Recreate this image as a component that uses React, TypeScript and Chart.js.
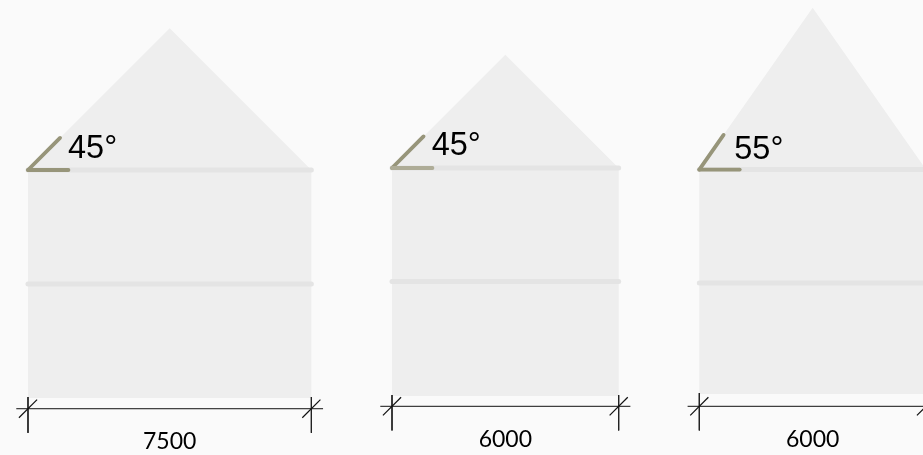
import React, { useEffect, useRef } from "react";
import { Chart, registerables } from "chart.js";

Chart.register(...registerables);

// Everything is in millimetres of the drawing.
const spanLabels = ["7500", "6000", "6000"];
const spans = [7500, 6000, 6000];
const pitchLabels = ["45°", "45°", "55°"];
const pitches = [45, 45, 55];
const leftEdges = [741, 10376, 18510];
const groundLevels = [1509, 1562, 1615];
const wallHeights = [6035, 6035, 5940];
const upperFloorHeights = [3017, 3004, 3004];
const dimensionLevels = [1225, 1289, 1289];
const pitchLabelOffsetX = [1060, 1050, 925];
const pitchLabelOffsetY = [320, 340, 270];
const spanLabelLevels = [170, 215, 215];
const angleMarkLengths = [1200, 1180, 1120];
const angleMarkColors = ["#97957a", "#97957a", "#97957a"];
const angleBaseColors = ["#97957a", "#aeac97", "#97957a"];

const MM_PER_PX = 1 / 0.03778;
const WIDTH = 923;
const HEIGHT = 455;
const ANGLE_BASE = 1070;
const TICK = 240;

type Pt = { x: number; y: number };

function line(points: Pt[], color: string, width: number, cap: CanvasLineCap = "butt", fill?: string) {
  return {
    type: "scatter" as const,
    data: points,
    showLine: true,
    borderColor: color,
    borderWidth: width,
    borderCapStyle: cap,
    backgroundColor: fill ?? "transparent",
    fill: fill ? "shape" : false,
    pointRadius: 0,
    tension: 0,
  };
}

function buildDatasets() {
  const layers: any[] = [];
  spans.forEach((span, i) => {
    const l = leftEdges[i];
    const r = l + span;
    const base = groundLevels[i];
    const top = base + wallHeights[i];
    const rise = (span / 2) * Math.tan((pitches[i] * Math.PI) / 180);
    layers.push(
      line(
        [
          { x: l, y: base },
          { x: l, y: top },
          { x: l + span / 2, y: top + rise },
          { x: r, y: top },
          { x: r, y: base },
        ],
        "transparent",
        0,
        "butt",
        "#eeeeee",
      ),
    );
  });
  spans.forEach((span, i) => {
    const l = leftEdges[i];
    const r = l + span;
    const top = groundLevels[i] + wallHeights[i];
    const mid = top - upperFloorHeights[i];
    layers.push(line([{ x: l, y: top }, { x: r, y: top }], "#e4e4e4", 5, "round"));
    layers.push(line([{ x: l, y: mid }, { x: r, y: mid }], "#e4e4e4", 5, "round"));
  });
  spans.forEach((span, i) => {
    const l = leftEdges[i];
    const r = l + span;
    const top = groundLevels[i] + wallHeights[i];
    const a = (pitches[i] * Math.PI) / 180;
    const len = angleMarkLengths[i];
    layers.push(line([{ x: l, y: top }, { x: l + len * Math.cos(a), y: top + len * Math.sin(a) }], angleMarkColors[i], 3.8, "round"));
    layers.push(line([{ x: l, y: top }, { x: l + ANGLE_BASE, y: top }], angleBaseColors[i], 3.8, "round"));
    const d = dimensionLevels[i];
    const base = groundLevels[i];
    layers.push(line([{ x: l - 310, y: d }, { x: r + 310, y: d }], "#111111", 1));
    [l, r].forEach((x) => {
      layers.push(line([{ x, y: base + 25 }, { x, y: d - 640 }], "#222222", 1));
      layers.push(line([{ x: x - TICK, y: d - TICK }, { x: x + TICK, y: d + TICK }], "#111111", 1.2));
    });
  });
  return layers.reverse();
}

const textPlugin = {
  id: "drawingText",
  afterDatasetsDraw(chart: any) {
    const { ctx, scales } = chart;
    ctx.save();
    ctx.fillStyle = "#000000";
    ctx.textBaseline = "alphabetic";
    spans.forEach((span, i) => {
      const top = groundLevels[i] + wallHeights[i];
      ctx.font = '32.5px "Liberation Sans"';
      ctx.textAlign = "left";
      ctx.fillText(pitchLabels[i], scales.x.getPixelForValue(leftEdges[i] + pitchLabelOffsetX[i]), scales.y.getPixelForValue(top + pitchLabelOffsetY[i]));
      ctx.font = "23px Lato";
      ctx.textAlign = "center";
      ctx.fillText(spanLabels[i], scales.x.getPixelForValue(leftEdges[i] + span / 2), scales.y.getPixelForValue(spanLabelLevels[i]));
    });
    ctx.restore();
  },
};

export default function App() {
  const ref = useRef<HTMLCanvasElement>(null);
  useEffect(() => {
    document.body.style.margin = "0";
    document.body.style.background = "#fafafa";
    const chart = new Chart(ref.current!, {
      type: "scatter",
      data: { datasets: buildDatasets() },
      plugins: [textPlugin],
      options: {
        animation: false,
        responsive: false,
        devicePixelRatio: 1,
        layout: { padding: 0 },
        plugins: { legend: { display: false }, tooltip: { enabled: false } },
        scales: {
          x: { type: "linear", display: false, min: 0, max: WIDTH * MM_PER_PX },
          y: { type: "linear", display: false, min: 0, max: HEIGHT * MM_PER_PX },
        },
      },
    });
    return () => chart.destroy();
  }, []);
  return <canvas ref={ref} width={WIDTH} height={HEIGHT} style={{ display: "block", background: "#fafafa" }} />;
}
